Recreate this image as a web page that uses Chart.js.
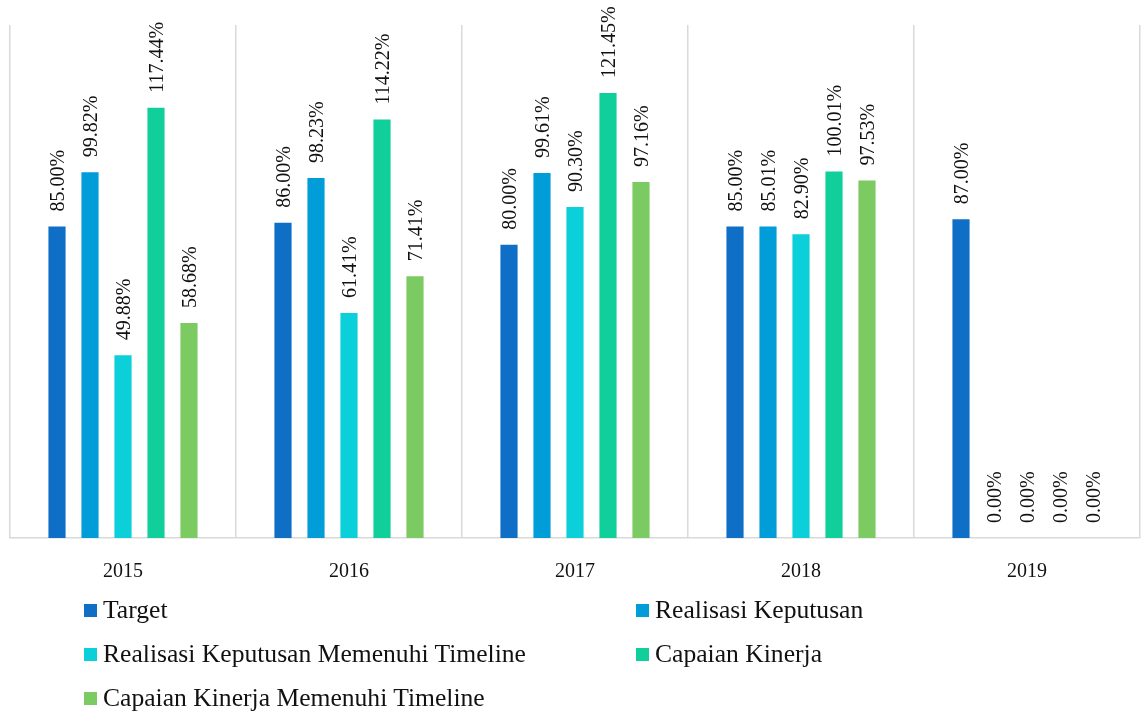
<!DOCTYPE html>
<html lang="id">
<head>
<meta charset="UTF-8">
<title>Capaian Kinerja 2015-2019</title>
<script src="https://cdn.jsdelivr.net/npm/chart.js"></script>
<style>
    body { margin: 0; background: #fff; }
    .wrap { position: relative; width: 1142px; height: 713px; }
    #chart { position: absolute; left: 0; top: 0; }
    .legend {
        position: absolute; left: 84px; top: 594px;
        display: grid; grid-template-columns: 552px 400px;
        row-gap: 12px;
        font-family: "Liberation Serif", serif; font-size: 25.6px; color: #111;
    }
    .legend div { display: flex; align-items: center; height: 32px; }
    .legend span.box { width: 13px; height: 13px; margin-right: 6px; display: inline-block; }
</style>
</head>
<body>
<div class="wrap">
    <canvas id="chart" width="1142" height="606"></canvas>
    <div class="legend" id="legend"></div>
</div>
<script>
    // data
    const years = ['2015', '2016', '2017', '2018', '2019'];
    const seriesNames = ['Target', 'Realisasi Keputusan', 'Realisasi Keputusan Memenuhi Timeline',
        'Capaian Kinerja', 'Capaian Kinerja Memenuhi Timeline'];
    const target = [85.00, 86.00, 80.00, 85.00, 87.00];
    const realisasi = [99.82, 98.23, 99.61, 85.01, 0.00];
    const realisasiTimeline = [49.88, 61.41, 90.30, 82.90, 0.00];
    const capaian = [117.44, 114.22, 121.45, 100.01, 0.00];
    const capaianTimeline = [58.68, 71.41, 97.16, 97.53, 0.00];
    const colors = ['#0F6FC6', '#009DD9', '#0BD0D9', '#10CF9B', '#7CCA62'];

    const allValues = [target, realisasi, realisasiTimeline, capaian, capaianTimeline];

    // rotated value labels above each bar
    const valueLabels = {
        id: 'valueLabels',
        afterDatasetsDraw(chart) {
            const ctx = chart.ctx;
            ctx.save();
            ctx.font = '20px "Liberation Serif", serif';
            ctx.fillStyle = '#111';
            ctx.textAlign = 'left';
            ctx.textBaseline = 'middle';
            chart.data.datasets.forEach((ds, i) => {
                chart.getDatasetMeta(i).data.forEach((bar, j) => {
                    ctx.save();
                    ctx.translate(bar.x + 2, bar.y - 15);
                    ctx.rotate(-Math.PI / 2);
                    ctx.fillText(ds.data[j].toFixed(2) + '%', 0, 0);
                    ctx.restore();
                });
            });
            ctx.restore();
        }
    };

    const chart = new Chart(document.getElementById('chart'), {
        type: 'bar',
        data: {
            labels: years,
            datasets: allValues.map((vals, i) => ({
                label: seriesNames[i],
                data: vals,
                backgroundColor: colors[i],
                barPercentage: 0.52,
                categoryPercentage: 0.73
            }))
        },
        options: {
            responsive: false,
            animation: false,
            layout: { padding: { top: 25, left: 10, right: 2, bottom: 0 } },
            plugins: { legend: { display: false }, tooltip: { enabled: false } },
            scales: {
                x: {
                    grid: { color: '#d9d9d9', lineWidth: 1.5, drawTicks: false },
                    border: { color: '#d9d9d9', width: 1.5 },
                    ticks: { color: '#111', padding: 22, font: { family: '"Liberation Serif", serif', size: 20 } }
                },
                y: { display: false, min: 0, max: 140 }
            }
        },
        plugins: [valueLabels]
    });

    // two-column legend like the original
    const legend = document.getElementById('legend');
    seriesNames.forEach((name, i) => {
        const item = document.createElement('div');
        item.innerHTML = '<span class="box" style="background:' + colors[i] + '"></span>' + name;
        legend.appendChild(item);
    });
</script>
</body>
</html>
